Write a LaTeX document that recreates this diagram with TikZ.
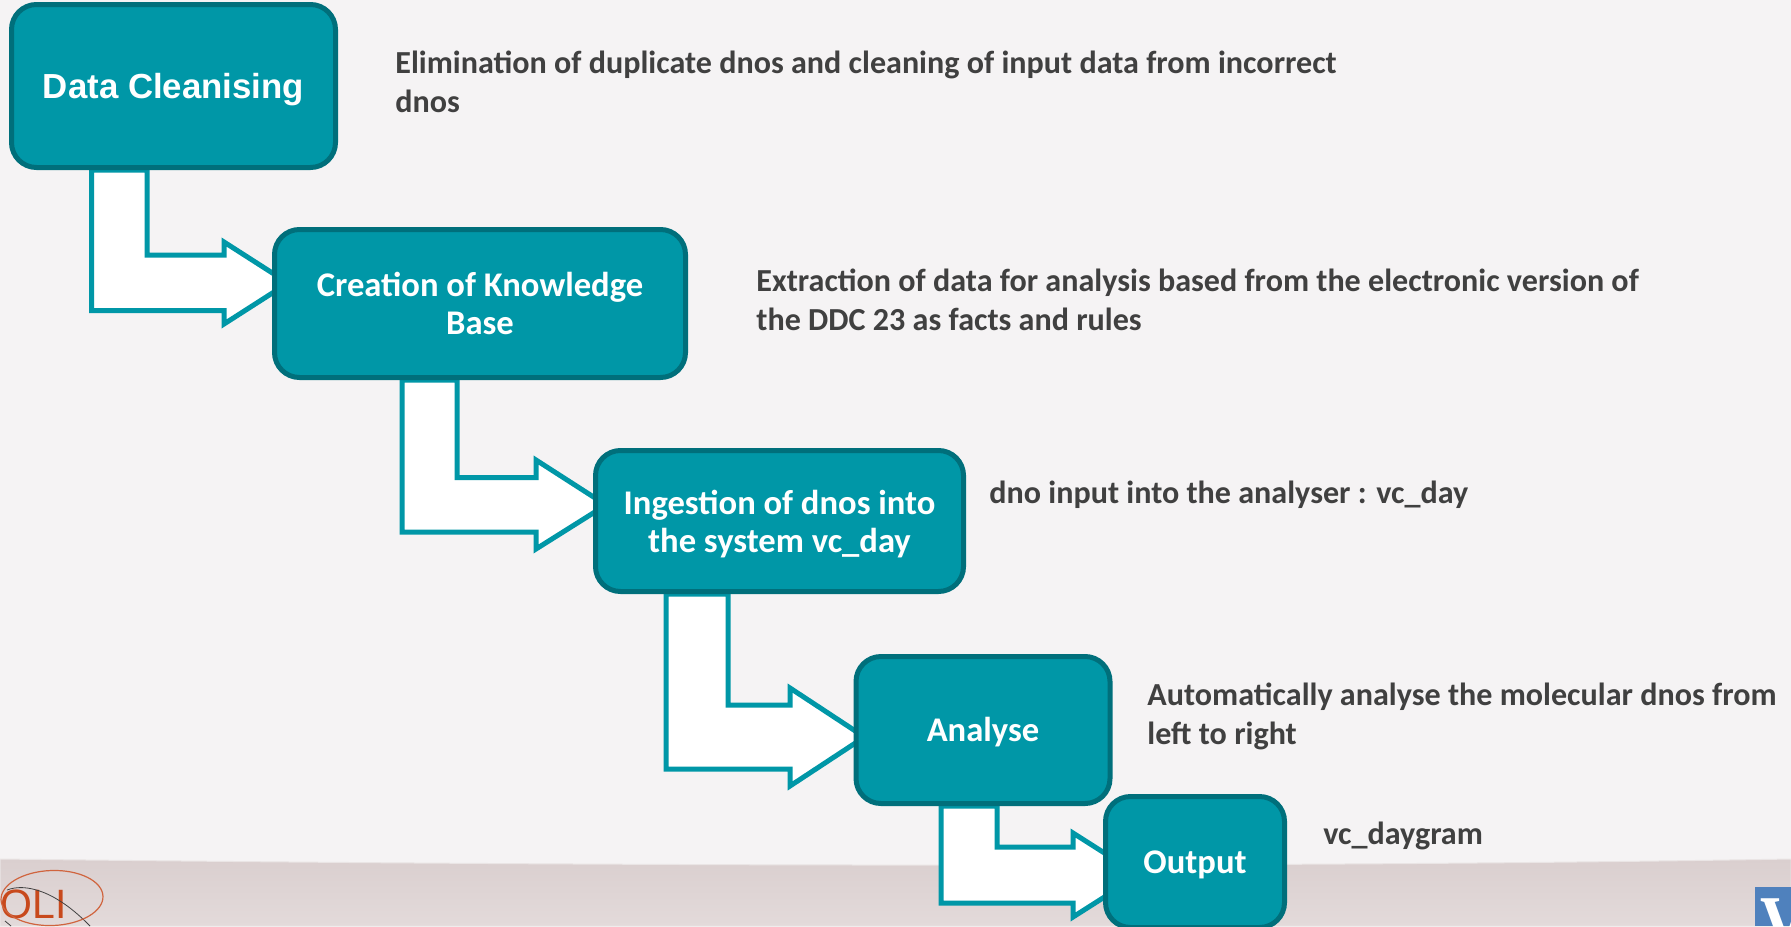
\documentclass[tikz,border=0pt]{standalone}
\usepackage{fontspec}
\setmainfont{Carlito}
\newfontfamily\arialf{Liberation Sans}
\newfontfamily\timesf{Liberation Serif}
\usetikzlibrary{calc}
\definecolor{teal1}{HTML}{0097A7}
\definecolor{teal2}{HTML}{006F7B}
\definecolor{paper}{HTML}{F5F3F4}
\definecolor{bandtop}{HTML}{DACFCF}
\definecolor{bandbot}{HTML}{E3DADA}
\definecolor{note}{HTML}{404040}
\definecolor{logoor}{HTML}{C8491C}
\definecolor{logoblue}{HTML}{4F81BD}
\pgfdeclarelayer{bg}\pgfdeclarelayer{arrows}\pgfsetlayers{bg,arrows,main}
\tikzset{
  stepbox/.style={draw=teal2,fill=teal1,line width=2.5pt,rounded corners=12.5pt,text=white,
    align=center,font=\fontsize{17.3}{19.2}\selectfont\bfseries,inner sep=0pt},
  notetext/.style={anchor=west,align=left,inner sep=0pt,text=note,
    font=\fontsize{16.05}{19.5}\selectfont\bfseries},
  bentarrow/.style={draw=teal1,fill=white,line width=2.5pt,miter limit=10}
}
% from, to, xl, xr, ytop, ybot, xneck, headtop, headbot, tipdx, tipdy
\newcommand{\bentlink}[9]{\def\blA{#1}\def\blB{#2}\def\blC{#3}\def\blD{#4}\def\blE{#5}\def\blF{#6}\def\blG{#7}\def\blH{#8}\def\blI{#9}\bentlinkc}
\newcommand{\bentlinkc}[2]{%
  \draw[bentarrow] (\blC,0 |- \blA.south) -- (\blC,\blF) -- (\blG,\blF) -- (\blG,\blI)
    -- ($(\blB.west)+(#1,#2)$) -- (\blG,\blH) -- (\blG,\blE) -- (\blD,\blE) -- (\blD,0 |- \blA.south) -- cycle;}
\newcommand{\lowerby}[1]{\rule{0pt}{#1}}
\begin{document}
\begin{tikzpicture}[x=0.5pt,y=-0.5pt]
\useasboundingbox (0,0) rectangle (1791,926);
\begin{pgfonlayer}{bg}
  \fill[paper] (0,0) rectangle (1791,926);
  \path[top color=bandtop,bottom color=bandbot,draw=paper!60!bandtop,line width=.5pt]
    (0,859) .. controls (500,865) and (1200,869) .. (1791,859) -- (1791,926) -- (0,926) -- cycle;
  \fill[logoblue] (1755,887) rectangle (1791,926);
  \node[inner sep=0pt,anchor=base west,text=white,xscale=.85] (vlogo) at (1760,948)
    {\fontsize{38}{38}\selectfont\timesf\bfseries V};
  \node[inner sep=0pt,anchor=base west,text=logoor] (ologo) at (0,918)
    {\fontsize{20.5}{21}\selectfont\arialf OLI};
  \draw[note,line width=.4pt] (7,890) .. controls (25,883) and (55,890) .. (90,926);
  \draw[note,line width=.4pt] (5,921) -- (11,926);
  \draw[logoor!85!white,line width=.6pt,rotate around={2:(52,898)}] (52,898) ellipse [x radius=51,y radius=27.5];
\end{pgfonlayer}

\node[stepbox,minimum width=162pt,minimum height=81.5pt,
  font=\fontsize{17.4}{19.5}\selectfont\arialf\bfseries] (clean) at (173.5,86) {\lowerby{16.5pt}Data Cleanising};
\node[stepbox,minimum width=205.5pt,minimum height=74pt] (kb) at (480,303.5) {Creation of Knowledge\\Base};
\node[stepbox,minimum width=184pt,minimum height=70.5pt] (ingest) at (779.5,521) {\lowerby{15pt}Ingestion of dnos into\\the system vc\_day};
\node[stepbox,minimum width=127pt,minimum height=73.5pt] (analyse) at (983,730) {\lowerby{14pt}Analyse};
\node[stepbox,minimum width=89.5pt,minimum height=65.5pt] (output) at (1195,862) {\lowerby{14pt}Output};

\begin{pgfonlayer}{arrows}
  \bentlink{clean}{kb}{91.5}{147}{255}{310.5}{224}{242}{324}{16}{-20.5}
  \bentlink{kb}{ingest}{402}{457}{477.5}{532}{536}{460}{549}{13}{-16}
  \bentlink{ingest}{analyse}{666}{728}{705}{769}{790}{688}{786}{11}{7}
  \bentlink{analyse}{output}{941}{997}{847}{903}{1073}{833}{917}{36}{13}
\end{pgfonlayer}

\node[notetext] (n1) at (395,82) {Elimination of duplicate dnos and cleaning of input data from incorrect\\dnos};
\node[notetext] (n2) at (756,300) {Extraction of data for analysis based from the electronic version of\\the DDC 23 as facts and rules};
\node[notetext] (n3) at (989,495) {dno input into the analyser : vc\_day};
\node[notetext] (n4) at (1147,716) {Automatically analyse the molecular dnos from\\left to right};
\node[notetext] (n5) at (1323,836) {vc\_daygram};
\end{tikzpicture}
\end{document}
